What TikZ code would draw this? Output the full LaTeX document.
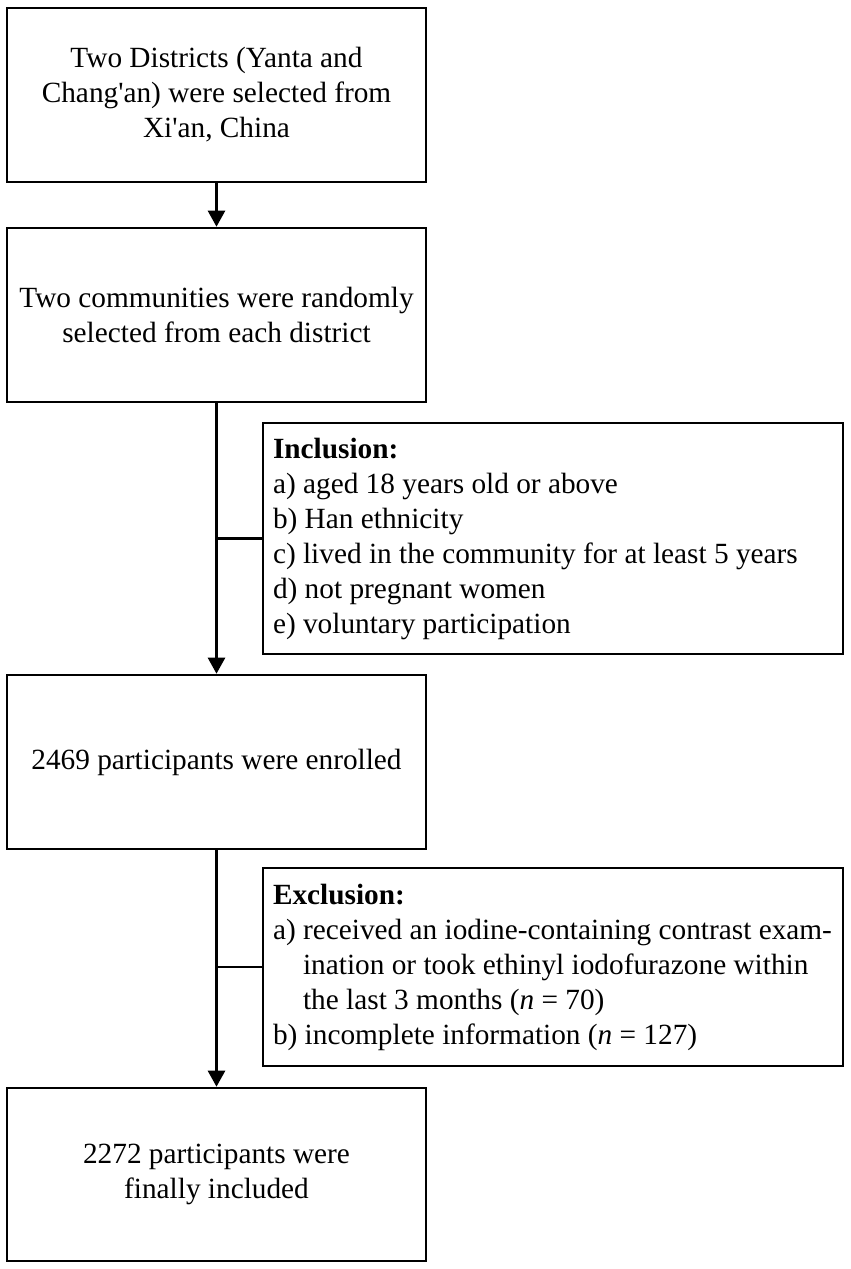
\documentclass[tikz,border=0pt]{standalone}
\usepackage{fontspec}
\setmainfont{Liberation Serif}[Ligatures=TeXOff]
\usetikzlibrary{arrows.meta}
\begin{document}
\begin{tikzpicture}[x=1pt,y=-1pt,
  every node/.style={font=\fontsize{29.3}{35}\selectfont},
  mainbox/.style={draw, line width=2.6pt, minimum width=419pt, align=center, inner sep=0pt},
  sidebox/.style={draw, line width=2.6pt, text width=560pt, inner xsep=10pt, inner ysep=0pt, align=flush left},
  arr/.style={line width=2.6pt, -{Triangle[length=16pt,width=17pt]}},
  conn/.style={line width=2.6pt}]
\useasboundingbox (0,0) rectangle (851,1269);
\node[mainbox, minimum height=174pt] (b1) at (216.5,95) {Two Districts (Yanta and\\Chang'an) were selected from\\Xi'an, China};
\node[mainbox, minimum height=174pt] (b2) at (216.5,315) {Two communities were randomly\\selected from each district};
\node[mainbox, minimum height=174pt] (b3) at (216.5,762) {2469 participants were enrolled};
\node[mainbox, minimum height=173pt] (b4) at (216.5,1174.5) {2272 participants were\\finally included};
\node[sidebox, minimum height=231pt] (incl) at (553,538.5) {\textbf{Inclusion:}\\a) aged 18 years old or above\\b) Han ethnicity\\c) lived in the community for at least 5 years\\d) not pregnant women\\e) voluntary participation};
\node[sidebox, minimum height=198pt] (excl) at (553,967) {\textbf{Exclusion:}\\a) received an iodine-containing contrast exam-\\\hphantom{a)\ }ination or took ethinyl iodofurazone within\\\hphantom{a)\ }the last 3 months (\textit{n} = 70)\\b) incomplete information (\textit{n} = 127)};
\draw[arr] (b1.south) -- (b2.north);
\draw[arr] (b2.south) -- (b3.north);
\draw[arr] (b3.south) -- (b4.north);
\draw[conn] (b2.south |- incl.west) -- (incl.west);
\draw[conn] (b3.south |- excl.west) -- (excl.west);
\end{tikzpicture}
\end{document}
